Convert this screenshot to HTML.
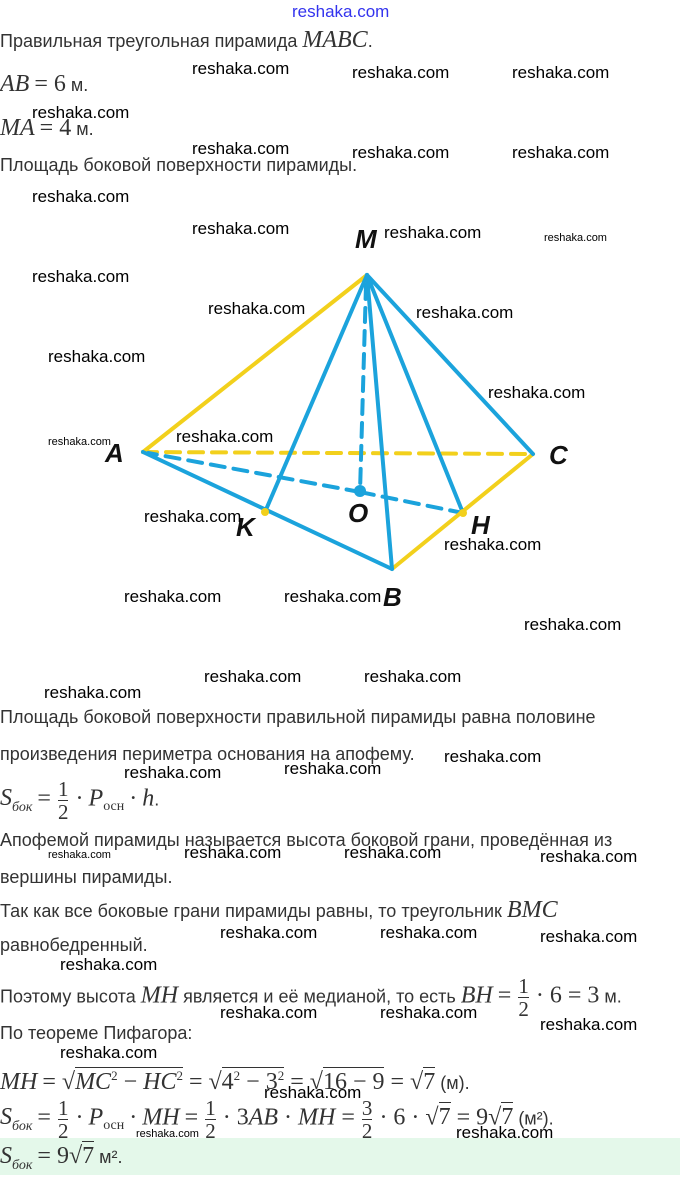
<!DOCTYPE html>
<html><head><meta charset="utf-8">
<style>
body{margin:0;width:680px;height:1175px;position:relative;background:#fff;overflow:hidden;font-family:"Liberation Sans",sans-serif;color:#333}
.t{position:absolute;font-size:18px;white-space:nowrap;line-height:22px}
.m{font-family:"Liberation Serif",serif;font-style:italic;font-size:24px}
.n{font-family:"Liberation Serif",serif;font-size:24px}
.w{position:absolute;font-size:17px;color:#000;white-space:nowrap;line-height:18px;font-family:"Liberation Sans",sans-serif}
.s{font-size:11px}
.fr{display:inline-block;vertical-align:middle;text-align:center;font-family:"Liberation Serif",serif;font-size:21px;line-height:22px;margin:0 2px}
.fr span{display:block}
.fr .num{border-bottom:1px solid #333}
.sq{border-top:1px solid #333;padding-top:1px}
sub{font-size:14px}
.lab{position:absolute;font-family:"Liberation Sans",sans-serif;font-style:italic;font-weight:bold;font-size:26px;color:#111}
</style></head><body>
<div class="t" style="left:292px;top:1px;color:#3333ee;font-size:17px">reshaka.com</div>

<div class="t" style="left:0;top:29px">Правильная треугольная пирамида <span class="m">MABC</span>.</div>
<div class="t" style="left:0;top:73px"><span class="m">AB</span> <span class="n">= 6</span> м.</div>
<div class="t" style="left:0;top:117px"><span class="m">MA</span> <span class="n">= 4</span> м.</div>
<div class="t" style="left:0;top:154px">Площадь боковой поверхности пирамиды.</div>

<svg style="position:absolute;left:0;top:0" width="680" height="680">
<g stroke-width="4" fill="none" stroke-linecap="round">
<line x1="143" y1="452" x2="533" y2="454" stroke="#f2d01c" stroke-dasharray="14,9"/>
<line x1="143" y1="452" x2="360" y2="492" stroke="#1ba3dc" stroke-dasharray="14,9"/>
<line x1="360" y1="492" x2="463" y2="513" stroke="#1ba3dc" stroke-dasharray="14,9"/>
<line x1="366" y1="285" x2="360" y2="492" stroke="#1ba3dc" stroke-dasharray="14,9"/>
<line x1="367" y1="275" x2="143" y2="452" stroke="#f2d01c"/>
<line x1="392" y1="569" x2="533" y2="454" stroke="#f2d01c"/>
<line x1="143" y1="452" x2="392" y2="569" stroke="#1ba3dc"/>
<line x1="367" y1="275" x2="533" y2="454" stroke="#1ba3dc"/>
<line x1="367" y1="275" x2="265" y2="512" stroke="#1ba3dc"/>
<line x1="367" y1="275" x2="392" y2="569" stroke="#1ba3dc"/>
<line x1="367" y1="275" x2="463" y2="513" stroke="#1ba3dc"/>
</g>
<circle cx="360" cy="491" r="6" fill="#1ba3dc"/>
<circle cx="265" cy="512" r="4" fill="#f2d01c"/>
<circle cx="463" cy="513" r="4" fill="#f2d01c"/>
</svg>
<div class="lab" style="left:355px;top:224px">M</div>
<div class="lab" style="left:105px;top:438px">A</div>
<div class="lab" style="left:549px;top:440px">C</div>
<div class="lab" style="left:236px;top:512px">K</div>
<div class="lab" style="left:348px;top:498px">O</div>
<div class="lab" style="left:471px;top:510px">H</div>
<div class="lab" style="left:383px;top:582px">B</div>

<div class="t" style="left:0;top:706px">Площадь боковой поверхности правильной пирамиды равна половине</div>
<div class="t" style="left:0;top:743px">произведения периметра основания на апофему.</div>
<div class="t" style="left:0;top:778px"><span class="m">S<sub>бок</sub></span> <span class="n">=</span> <span class="fr"><span class="num">1</span><span>2</span></span> <span class="n">·</span> <span class="m">P</span><sub class="n" style="font-size:14px">осн</sub> <span class="n">·</span> <span class="m">h</span>.</div>
<div class="t" style="left:0;top:829px">Апофемой пирамиды называется высота боковой грани, проведённая из</div>
<div class="t" style="left:0;top:866px">вершины пирамиды.</div>
<div class="t" style="left:0;top:899px">Так как все боковые грани пирамиды равны, то треугольник <span class="m">BMC</span></div>
<div class="t" style="left:0;top:934px">равнобедренный.</div>
<div class="t" style="left:0;top:975px">Поэтому высота <span class="m">MH</span> является и её медианой, то есть <span class="m">BH</span> <span class="n">=</span> <span class="fr"><span class="num">1</span><span>2</span></span> <span class="n">· 6 = 3</span> м.</div>
<div class="t" style="left:0;top:1022px">По теореме Пифагора:</div>
<div class="t" style="left:0;top:1065px"><span class="m">MH</span> <span class="n">= √<span class="sq"><i>MC</i><sup style="font-size:13px">2</sup> − <i>HC</i><sup style="font-size:13px">2</sup></span> = √<span class="sq">4<sup style="font-size:13px">2</sup> − 3<sup style="font-size:13px">2</sup></span> = √<span class="sq">16 − 9</span> = √<span class="sq">7</span></span> (м).</div>
<div class="t" style="left:0;top:1097px"><span class="m">S<sub>бок</sub></span> <span class="n">=</span> <span class="fr"><span class="num">1</span><span>2</span></span> <span class="n">·</span> <span class="m">P</span><sub class="n" style="font-size:14px">осн</sub> <span class="n">·</span> <span class="m">MH</span> <span class="n">=</span> <span class="fr"><span class="num">1</span><span>2</span></span> <span class="n">· 3<i>AB</i> · <i>MH</i> =</span> <span class="fr"><span class="num">3</span><span>2</span></span> <span class="n">· 6 · √<span class="sq">7</span> = 9√<span class="sq">7</span></span> (м²).</div>
<div style="position:absolute;left:0;top:1138px;width:680px;height:37px;background:#e4f8ea"></div>
<div class="t" style="left:0;top:1145px"><span class="m">S<sub>бок</sub></span> <span class="n">= 9√<span class="sq">7</span></span> м².</div>

<div class="w" style="left:192px;top:60px">reshaka.com</div>
<div class="w" style="left:352px;top:64px">reshaka.com</div>
<div class="w" style="left:512px;top:64px">reshaka.com</div>
<div class="w" style="left:32px;top:104px">reshaka.com</div>
<div class="w" style="left:192px;top:140px">reshaka.com</div>
<div class="w" style="left:352px;top:144px">reshaka.com</div>
<div class="w" style="left:512px;top:144px">reshaka.com</div>
<div class="w" style="left:32px;top:188px">reshaka.com</div>
<div class="w" style="left:192px;top:220px">reshaka.com</div>
<div class="w" style="left:384px;top:224px">reshaka.com</div>
<div class="w s" style="left:544px;top:229px">reshaka.com</div>
<div class="w" style="left:32px;top:268px">reshaka.com</div>
<div class="w" style="left:208px;top:300px">reshaka.com</div>
<div class="w" style="left:416px;top:304px">reshaka.com</div>
<div class="w" style="left:48px;top:348px">reshaka.com</div>
<div class="w" style="left:488px;top:384px">reshaka.com</div>
<div class="w s" style="left:48px;top:433px">reshaka.com</div>
<div class="w" style="left:176px;top:428px">reshaka.com</div>
<div class="w" style="left:144px;top:508px">reshaka.com</div>
<div class="w" style="left:444px;top:536px">reshaka.com</div>
<div class="w" style="left:124px;top:588px">reshaka.com</div>
<div class="w" style="left:284px;top:588px">reshaka.com</div>
<div class="w" style="left:524px;top:616px">reshaka.com</div>
<div class="w" style="left:44px;top:684px">reshaka.com</div>
<div class="w" style="left:204px;top:668px">reshaka.com</div>
<div class="w" style="left:364px;top:668px">reshaka.com</div>
<div class="w" style="left:444px;top:748px">reshaka.com</div>
<div class="w" style="left:124px;top:764px">reshaka.com</div>
<div class="w" style="left:284px;top:760px">reshaka.com</div>
<div class="w s" style="left:48px;top:846px">reshaka.com</div>
<div class="w" style="left:184px;top:844px">reshaka.com</div>
<div class="w" style="left:344px;top:844px">reshaka.com</div>
<div class="w" style="left:540px;top:848px">reshaka.com</div>
<div class="w" style="left:220px;top:924px">reshaka.com</div>
<div class="w" style="left:380px;top:924px">reshaka.com</div>
<div class="w" style="left:540px;top:928px">reshaka.com</div>
<div class="w" style="left:60px;top:956px">reshaka.com</div>
<div class="w" style="left:220px;top:1004px">reshaka.com</div>
<div class="w" style="left:380px;top:1004px">reshaka.com</div>
<div class="w" style="left:540px;top:1016px">reshaka.com</div>
<div class="w" style="left:60px;top:1044px">reshaka.com</div>
<div class="w" style="left:264px;top:1084px">reshaka.com</div>
<div class="w s" style="left:136px;top:1125px">reshaka.com</div>
<div class="w" style="left:456px;top:1124px">reshaka.com</div>
</body></html>
